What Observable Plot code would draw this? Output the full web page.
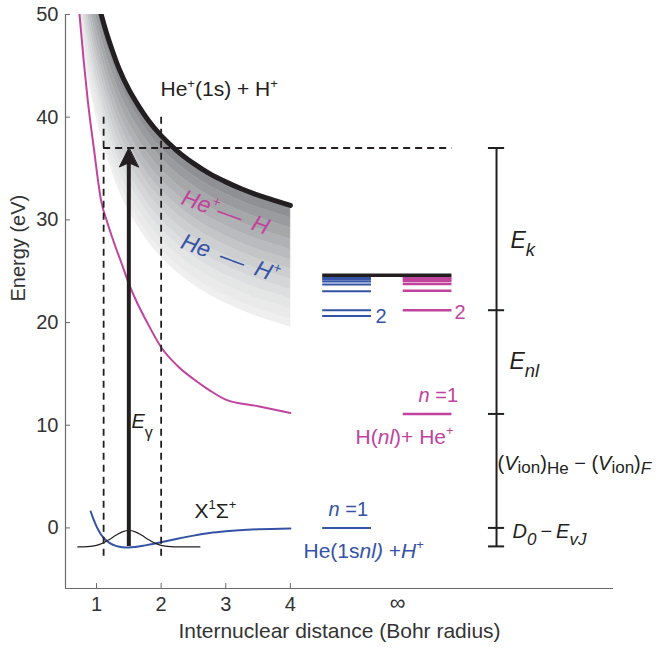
<!DOCTYPE html>
<html><head><meta charset="utf-8">
<script src="https://cdn.jsdelivr.net/npm/d3@7"></script>
<script src="https://cdn.jsdelivr.net/npm/@observablehq/plot@0.6"></script>
<style>body{margin:0;background:#fff;} #chart svg{display:block}</style>
</head><body><div id="chart"></div>
<script>
// ---------- data ----------
const xTicks = [1, 2, 3, 4];
const yTicks = [0, 10, 20, 30, 40, 50];
const infR = 5.66;                       // position of the "∞" column
const xMin = 0.52, xMax = 9.0, yMin = -5.9, yMax = 50;

// He+(1s) + H+ Coulomb curve (thick black)
const topR = [0.70, 0.75, 0.80, 0.85, 0.90, 0.95, 1.00, 1.06, 1.15, 1.25, 1.35, 1.5, 1.65, 1.8, 2.0, 2.25, 2.5, 2.75, 3.0, 3.25, 3.5, 3.75, 4.0];
const topE = [63.5, 60.9, 58.6, 56.6, 54.8, 53.2, 51.8, 50.3, 48.3, 46.4, 44.7, 42.7, 41.1, 39.7, 38.2, 36.7, 35.5, 34.5, 33.7, 33.0, 32.4, 31.9, 31.4];
// grey band stripes: depth below the black curve (eV) and shade
const bandOffsets = [0, 1.2, 2.2, 3.3, 4.3, 5.3, 6.2, 7.2, 8.2, 9.1, 10.1, 11.1, 11.8];
const bandShades = ["#8e9093", "#999b9e", "#a5a7a9", "#b0b1b4", "#babbbe", "#c4c5c7", "#cdcecf", "#d5d6d7", "#dddedf", "#e4e5e5", "#eaeaeb", "#efeff0"];

// He+ -- H curve (magenta)
const magR = [0.737, 0.8, 0.865, 0.958, 1.07, 1.17, 1.27, 1.38, 1.5, 1.63, 1.76, 2.0, 2.25, 2.5, 2.75, 3.0, 3.5, 4.0];
const magE = [50, 45.6, 41.6, 37, 31.9, 29.7, 27.8, 25.9, 23.8, 21.9, 20.3, 17.6, 15.8, 14.5, 13.4, 12.5, 11.85, 11.2];

// X1Σ+ ground state (blue)
const gsR = [0.91, 0.95, 1.0, 1.05, 1.1, 1.2, 1.3, 1.4, 1.5, 1.6, 1.75, 2.0, 2.25, 2.5, 2.75, 3.0, 3.5, 4.0];
const gsE = [1.6, 0.9, 0.15, -0.45, -0.9, -1.45, -1.75, -1.88, -1.9, -1.85, -1.7, -1.4, -1.05, -0.75, -0.5, -0.33, -0.13, -0.05];

// vibrational wavefunction (thin black)
const wfR = [0.71, 0.8, 0.9, 1.0, 1.1, 1.2, 1.3, 1.4, 1.5, 1.6, 1.7, 1.8, 1.9, 2.0, 2.1, 2.2, 2.4, 2.6];
const wfE = [-1.85, -1.84, -1.8, -1.7, -1.47, -1.12, -0.72, -0.38, -0.25, -0.38, -0.72, -1.12, -1.47, -1.7, -1.8, -1.84, -1.85, -1.85];

// asymptotic levels (eV)
const ionLimit = 24.6;
const heLevels = [20.65, 21.2, 23.05, 23.7, 24.0, 24.2, 24.35];
const hLevels = [21.2, 23.1, 23.75, 24.05, 24.22, 24.35];
const heN1 = 0, hN1 = 11.1;
const heSpan = [4.50, 5.255], hSpan = [5.746, 6.50], limitSpan = [4.50, 6.50];

// energy bracket
const bracketR = 7.19;
const bracketTicks = [37, 21.2, 11.1, 0, -1.8];

// Franck-Condon window & excitation
const fcR = [1.11, 2.0];
const fcRange = [-2.75, 40];
const excitE = 37, excitEnd = 6.5;
const arrowR = 1.5, arrowFrom = -1.8;

// ---------- styling ----------
const BLACK = "#231f20", MAG = "#c0449d", BLUE = "#3553a6", AXIS = "#6a6a6a";

// labels (anchor positions in data units)
const labels = [
  {key: "He+(1s) + H+", R: 1.99, E: 42.68, color: BLACK, size: 21},
  {key: "He+-- H", R: 2.996, E: 30.72, color: MAG, size: 23, anchor: "middle", rot: 20},
  {key: "He -- H+", R: 3.073, E: 26.24, color: BLUE, size: 23, anchor: "middle", rot: 20},
  {key: "E_gamma", R: 1.541, E: 10.32, color: BLACK, size: 20},
  {key: "X1Sigma+", R: 2.516, E: 1.6, color: BLACK, size: 21},
  {key: "n=1 blue", R: 4.59, E: 1.79, color: BLUE, size: 20},
  {key: "He(1snl) +H+", R: 4.203, E: -2.28, color: BLUE, size: 21},
  {key: "n=1 mag", R: 5.983, E: 12.9, color: MAG, size: 20},
  {key: "H(nl)+ He+", R: 5.008, E: 8.84, color: MAG, size: 21},
  {key: "2", R: 5.317, E: 20.59, color: BLUE, size: 20},
  {key: "2 ", R: 6.54, E: 20.93, color: MAG, size: 20},
  {key: "E_k", R: 7.406, E: 27.99, color: BLACK, size: 23},
  {key: "E_nl", R: 7.391, E: 16.16, color: BLACK, size: 23},
  {key: "Vion", R: 7.205, E: 6.27, color: BLACK, size: 20},
  {key: "D0-EvJ", R: 7.437, E: -0.35, color: BLACK, size: 20}
];
const EN = "\u2002", TH = "\u2009";
const rich = {
  "He+(1s) + H+": [["He"], ["+", "sup"], ["(1s) + H"], ["+", "sup"]],
  "He+-- H": [["He", "i"], ["+", "sup i"], ["\u2013\u2013" + EN + "H", "i"]],
  "He -- H+": [["He" + EN + "\u2013\u2013" + EN + "H", "i"], ["+", "sup i"]],
  "E_gamma": [["E", "i"], ["\u03b3", "sub", 0.8, 0.5]],
  "X1Sigma+": [["X"], ["1", "sup"], ["\u03a3"], ["+", "sup"]],
  "n=1 blue": [["n", "i"], [" =1"]],
  "He(1snl) +H+": [["He(1s"], ["nl)", "i"], [" +"], ["H", "i"], ["+", "sup"]],
  "n=1 mag": [["n", "i"], [" =1"]],
  "H(nl)+ He+": [["H("], ["nl", "i"], [")+ He"], ["+", "sup"]],
  "2": [["2"]],
  "2 ": [["2"]],
  "E_k": [["E", "i"], ["k", "sub i", 0.8, 0.35]],
  "E_nl": [["E", "i"], ["nl", "sub i", 0.8, 0.35]],
  "Vion": [["("], ["V", "i"], ["ion", "sub", 0.85, 0.15], [")"], ["He", "sub", 0.85, 0.2], [" \u2212 ("], ["V", "i"], ["ion", "sub", 0.85, 0.15], [")"], ["F", "sub i", 0.85, 0.2]],
  "D0-EvJ": [["D", "i"], ["0", "sub i", 0.85, 0.35], [TH + "\u2212" + TH], ["E", "i"], ["vJ", "sub i", 0.85, 0.35]]
};

// ---------- tables built from the arrays ----------
const topCurve = topR.map((R, i) => ({R, E: topE[i]}));
const bands = bandShades.map((shade, b) => ({
  shade,
  rows: topCurve.map(d => ({R: d.R, hi: d.E - bandOffsets[b], lo: d.E - bandOffsets[b + 1]}))
}));
const magCurve = magR.map((R, i) => ({R, E: magE[i]}));
const gsCurve = gsR.map((R, i) => ({R, E: gsE[i]}));
const wfCurve = wfR.map((R, i) => ({R, E: wfE[i]}));

const marks = [];
for (const b of bands) {
  marks.push(Plot.areaY(b.rows, {x: "R", y1: "lo", y2: "hi", fill: b.shade, stroke: b.shade, strokeWidth: 0.6, curve: "monotone-x", clip: true}));
}
marks.push(
  Plot.line(topCurve, {x: "R", y: "E", stroke: BLACK, strokeWidth: 5, curve: "monotone-x", clip: true}),
  Plot.line(magCurve, {x: "R", y: "E", stroke: MAG, strokeWidth: 2, curve: "monotone-x", clip: true}),
  Plot.line(gsCurve, {x: "R", y: "E", stroke: BLUE, strokeWidth: 2, curve: "monotone-x"}),
  Plot.line(wfCurve, {x: "R", y: "E", stroke: BLACK, strokeWidth: 1.2, curve: "monotone-x"}),
  Plot.ruleX(fcR, {y1: fcRange[1], y2: fcRange[0], stroke: BLACK, strokeWidth: 1.8, strokeDasharray: "7,5"}),
  Plot.ruleY([excitE], {x1: fcR[0], x2: excitEnd, stroke: BLACK, strokeWidth: 1.8, strokeDasharray: "7,5"}),
  Plot.ruleX([arrowR], {y1: excitE, y2: arrowFrom, stroke: BLACK, strokeWidth: 4, insetTop: 10}),
  Plot.vector([{R: arrowR, E: excitE}], {x: "R", y: "E", length: 19, anchor: "end", fill: BLACK, stroke: BLACK, strokeWidth: 1,
    shape: {draw(ctx, l) { const w = 9.5; ctx.moveTo(0, -l); ctx.lineTo(-w, 0); ctx.lineTo(0, -l * 0.22); ctx.lineTo(w, 0); ctx.closePath(); }}}),
  Plot.ruleY(heLevels, {x1: heSpan[0], x2: heSpan[1], stroke: BLUE, strokeWidth: 2}),
  Plot.ruleY(hLevels, {x1: hSpan[0], x2: hSpan[1], stroke: MAG, strokeWidth: 2.4}),
  Plot.ruleY([heN1], {x1: heSpan[0], x2: heSpan[1], stroke: BLUE, strokeWidth: 2}),
  Plot.ruleY([hN1], {x1: hSpan[0], x2: hSpan[1], stroke: MAG, strokeWidth: 2.4}),
  Plot.ruleY([ionLimit], {x1: limitSpan[0], x2: limitSpan[1], stroke: BLACK, strokeWidth: 3.5}),
  Plot.ruleX([bracketR], {y1: bracketTicks[bracketTicks.length - 1], y2: bracketTicks[0], stroke: BLACK, strokeWidth: 2}),
  Plot.ruleY(bracketTicks, {x1: bracketR - 0.125, x2: bracketR + 0.125, stroke: BLACK, strokeWidth: 2}),
  // axes
  Plot.ruleX([xMin], {stroke: AXIS, strokeWidth: 1.2}),
  Plot.ruleY([yMin], {stroke: AXIS, strokeWidth: 1.2}),
  Plot.axisY(yTicks, {tickSize: 5, dx: 5, tickFormat: () => "", stroke: AXIS, label: null}),
  Plot.axisY(yTicks, {tickSize: 0, tickPadding: 7, fontSize: 20, label: null}),
  Plot.axisX(xTicks, {tickSize: 5, dy: -5, tickFormat: () => "", stroke: AXIS, label: null}),
  Plot.axisX(xTicks, {tickSize: 0, tickPadding: 8, fontSize: 20, label: null}),
  Plot.axisX([infR], {tickSize: 0, tickPadding: 6, tickFormat: () => "\u221e", fontSize: 22, label: null}),
  Plot.text(["Internuclear distance (Bohr radius)"], {frameAnchor: "bottom", dy: 43, fontSize: 21, lineAnchor: "middle"}),
  Plot.text(["Energy (eV)"], {frameAnchor: "left", dx: -46.5, rotate: -90, fontSize: 20, lineAnchor: "middle"})
);
for (const l of labels) {
  marks.push(Plot.text([l], {x: "R", y: "E", text: "key", fill: l.color, fontSize: l.size,
    textAnchor: l.anchor || "start", rotate: l.rot || 0, lineAnchor: "middle"}));
}

const plot = Plot.plot({
  width: 659, height: 649,
  marginLeft: 65, marginRight: 46, marginTop: 14, marginBottom: 61,
  x: {domain: [xMin, xMax]},
  y: {domain: [yMin, yMax]},
  style: {fontFamily: "'Liberation Sans', Arial, Helvetica, sans-serif", fontSize: "20px", color: "#333", background: "#fff", overflow: "visible"},
  marks
});

// ---------- rich text (super/subscripts, italics) ----------
const NS = "http://www.w3.org/2000/svg";
const sizeOf = Object.fromEntries(labels.map(l => [l.key, l.size]));
plot.querySelectorAll("text").forEach(el => {
  const key = el.textContent;
  if (!(key in rich) || !(key in sizeOf)) return;
  const fs = sizeOf[key];
  el.textContent = "";
  let cur = 0;
  for (const [t, st = "", scale, shift] of rich[key]) {
    const flags = st.split(" ");
    const ts = document.createElementNS(NS, "tspan");
    let size = fs, off = 0;
    if (flags.includes("sup")) { size = fs * (scale || 0.62); off = -fs * (shift || 0.42); }
    if (flags.includes("sub")) { size = fs * (scale || 0.75); off = fs * (shift || 0.3); }
    ts.setAttribute("font-size", size);
    if (flags.includes("i")) ts.setAttribute("font-style", "italic");
    const dy = off - cur;
    if (dy) ts.setAttribute("dy", dy.toFixed(2));
    cur = off;
    ts.textContent = t;
    el.appendChild(ts);
  }
});
document.getElementById("chart").appendChild(plot);
</script>
</body></html>
